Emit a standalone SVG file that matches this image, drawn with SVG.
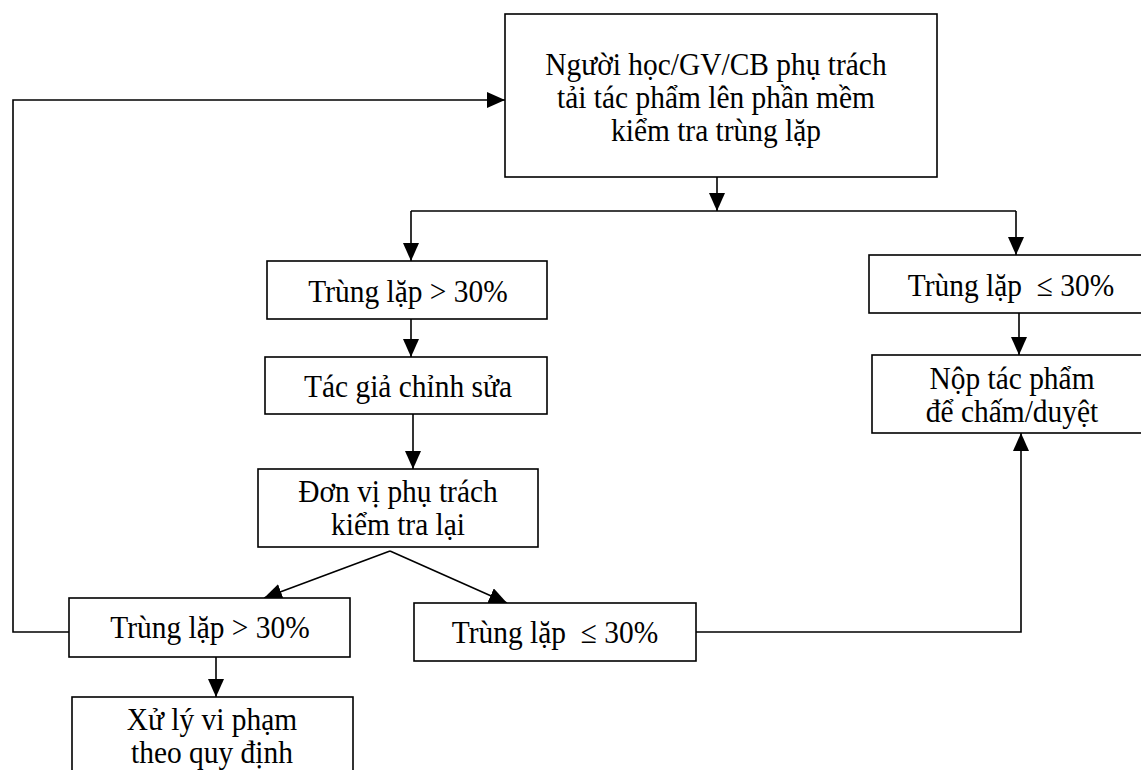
<svg xmlns="http://www.w3.org/2000/svg" width="1141" height="770" viewBox="0 0 1141 770">
  <style>
    .box { fill: #ffffff; stroke: #000000; stroke-width: 1.6; }
    .t { font-family: "Liberation Serif", "Times New Roman", serif; font-size: 32px; fill: #000000; text-anchor: middle; }
    .ln { fill: none; stroke: #000000; stroke-width: 1.6; }
  </style>
  <defs>
    <marker id="arr" viewBox="0 0 18 16" refX="18" refY="8" markerWidth="18" markerHeight="16" markerUnits="userSpaceOnUse" orient="auto">
      <path d="M0,0 L18,8 L0,16 Z" fill="#000000"/>
    </marker>
  </defs>
  <rect width="1141" height="770" fill="#ffffff"/>

  <g id="connectors">
    <path class="ln" d="M717,177 L717,211" marker-end="url(#arr)"/>
    <path class="ln" d="M411,211 L1016,211"/>
    <path class="ln" d="M411,211 L411,261" marker-end="url(#arr)"/>
    <path class="ln" d="M1016,211 L1016,255" marker-end="url(#arr)"/>
    <path class="ln" d="M411,319 L411,357" marker-end="url(#arr)"/>
    <path class="ln" d="M413,414 L413,469" marker-end="url(#arr)"/>
    <path class="ln" d="M390,551 L264,598" marker-end="url(#arr)"/>
    <path class="ln" d="M390,551 L507,603" marker-end="url(#arr)"/>
    <path class="ln" d="M1019,313 L1019,355" marker-end="url(#arr)"/>
    <path class="ln" d="M696,632 L1021,632 L1021,433" marker-end="url(#arr)"/>
    <path class="ln" d="M69,632 L13,632 L13,100 L505,100" marker-end="url(#arr)"/>
    <path class="ln" d="M216,657 L216,697" marker-end="url(#arr)"/>
  </g>

  <g id="n-upload">
    <rect class="box" x="505" y="14" width="432" height="163"/>
    <text class="t" transform="translate(716,75) scale(0.92,1)">Người học/GV/CB phụ trách</text>
    <text class="t" transform="translate(716,108) scale(0.92,1)">tải tác phẩm lên phần mềm</text>
    <text class="t" transform="translate(716,141) scale(0.92,1)">kiểm tra trùng lặp</text>
  </g>

  <g id="n-over1">
    <rect class="box" x="267" y="261" width="280" height="58"/>
    <text class="t" transform="translate(408,302) scale(0.92,1)">Trùng lặp &gt; 30%</text>
  </g>

  <g id="n-edit">
    <rect class="box" x="265" y="357" width="282" height="57"/>
    <text class="t" transform="translate(408,397) scale(0.92,1)">Tác giả chỉnh sửa</text>
  </g>

  <g id="n-recheck">
    <rect class="box" x="258" y="469" width="280" height="78"/>
    <text class="t" transform="translate(398,502) scale(0.92,1)">Đơn vị phụ trách</text>
    <text class="t" transform="translate(398,535) scale(0.92,1)">kiểm tra lại</text>
  </g>

  <g id="n-over2">
    <rect class="box" x="69" y="598" width="281" height="59"/>
    <text class="t" transform="translate(210,638) scale(0.92,1)">Trùng lặp &gt; 30%</text>
  </g>

  <g id="n-under2">
    <rect class="box" x="414" y="603" width="282" height="58"/>
    <text class="t" transform="translate(555,643) scale(0.92,1)">Trùng lặp&#160; ≤ 30%</text>
  </g>

  <g id="n-violation">
    <rect class="box" x="72" y="697" width="281" height="85"/>
    <text class="t" transform="translate(212,730) scale(0.92,1)">Xử lý vi phạm</text>
    <text class="t" transform="translate(212,763) scale(0.92,1)">theo quy định</text>
  </g>

  <g id="n-under1">
    <rect class="box" x="869" y="255" width="285" height="58"/>
    <text class="t" transform="translate(1011,296) scale(0.92,1)">Trùng lặp&#160; ≤ 30%</text>
  </g>

  <g id="n-submit">
    <rect class="box" x="872" y="355" width="285" height="78"/>
    <text class="t" transform="translate(1012,389) scale(0.92,1)">Nộp tác phẩm</text>
    <text class="t" transform="translate(1012,422) scale(0.92,1)">để chấm/duyệt</text>
  </g>
</svg>
